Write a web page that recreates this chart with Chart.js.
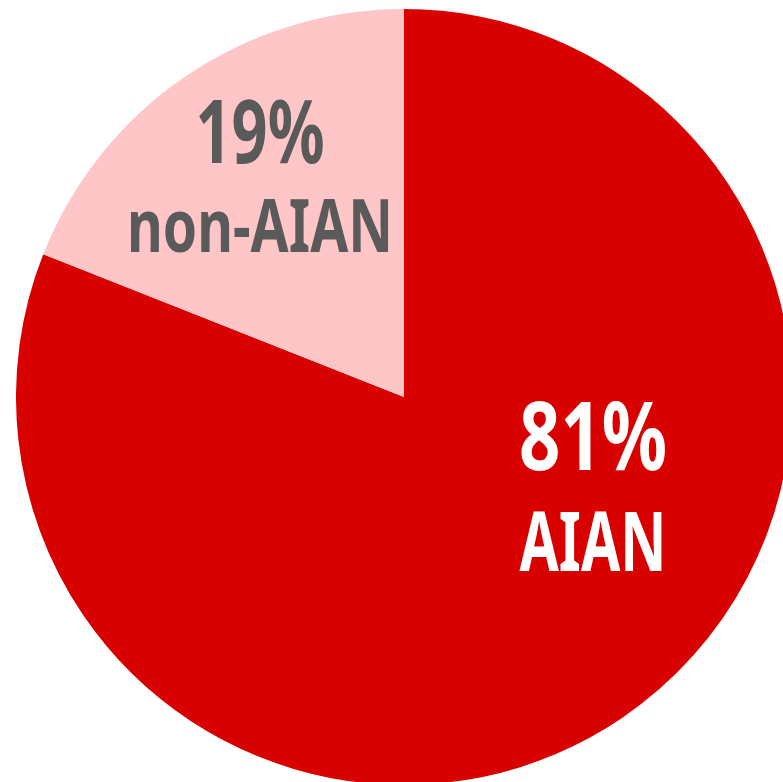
<!DOCTYPE html>
<html lang="en">
<head>
    <meta charset="UTF-8">
    <title>AIAN share</title>
    <style>
        html, body {
            margin: 0;
            padding: 0;
            background: #ffffff;
            overflow: hidden;
            width: 783px;
            height: 782px;
        }
        #wrap {
            position: absolute;
            left: 16px;
            top: 9px;
            width: 776px;
            height: 776px;
        }
    </style>
</head>
<body>
    <div id="wrap"><canvas id="pie" width="776" height="776"></canvas></div>

    <script src="https://cdn.jsdelivr.net/npm/chart.js"></script>
    <script>
        // dane
        const categories = ['AIAN', 'non-AIAN'];
        const shares = [81, 19];
        const sliceColors = ['#d90000', '#ffc6c8'];
        const textColors = ['#ffffff', '#5a5a5a'];

        // pozycje etykiet wzgledem srodka kola (w pikselach), szerokosc tekstu -> font waski
        const labelSpots = [
            { dx: 189, big: 73, small: 174, bigSize: 95, smallSize: 83, bigW: 148, smallW: 147 },
            { dx: -144, big: -234, small: -145, bigSize: 87, smallSize: 73, bigW: 129, smallW: 266 }
        ];
        const FONT = '"Noto Sans", "DejaVu Sans", sans-serif';

        function narrowText(ctx, txt, x, y, size, width) {
            ctx.font = `bold ${size}px ${FONT}`;
            const w = ctx.measureText(txt).width;
            const k = width / w;
            ctx.save();
            ctx.translate(x, y);
            ctx.scale(k, 1);
            ctx.fillText(txt, 0, 0);
            ctx.restore();
        }

        const labelPlugin = {
            id: 'sliceLabels',
            afterDatasetsDraw(chart) {
                const ctx = chart.ctx;
                const arcs = chart.getDatasetMeta(0).data;
                arcs.forEach((arc, i) => {
                    const spot = labelSpots[i];
                    const cx = arc.x + spot.dx;
                    ctx.save();
                    ctx.fillStyle = textColors[i];
                    ctx.textAlign = 'center';
                    ctx.textBaseline = 'alphabetic';
                    narrowText(ctx, shares[i] + '%', cx, arc.y + spot.big, spot.bigSize, spot.bigW);
                    narrowText(ctx, categories[i], cx, arc.y + spot.small, spot.smallSize, spot.smallW);
                    ctx.restore();
                });
            }
        };

        new Chart(document.getElementById('pie'), {
            type: 'pie',
            data: {
                labels: categories,
                datasets: [{
                    data: shares,
                    backgroundColor: sliceColors,
                    borderWidth: 0
                }]
            },
            options: {
                responsive: false,
                animation: false,
                layout: { padding: 0 },
                plugins: {
                    legend: { display: false },
                    tooltip: { enabled: false }
                }
            },
            plugins: [labelPlugin]
        });
    </script>
</body>
</html>
